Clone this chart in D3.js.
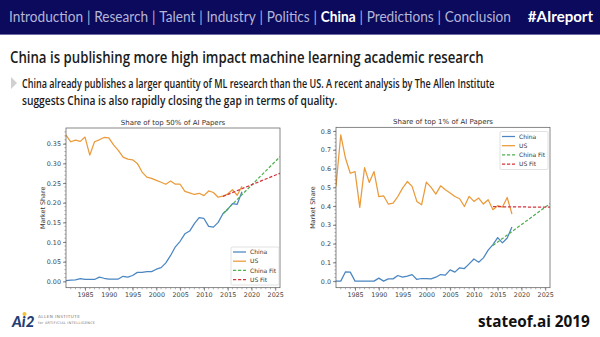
<!DOCTYPE html>
<html lang="en">
<head>
    <meta charset="UTF-8">
    <title>China ML research share</title>
    <script src="https://d3js.org/d3.v7.min.js"></script>
    <style>
        body { margin: 0; background: #fff; }
        svg { display: block; }
    </style>
</head>
<body>
    <script>
    // yearly market share, 1981-2018
    const years = d3.range(1981, 2019);
    const usTop50 = [0.372, 0.355, 0.359, 0.356, 0.367, 0.321, 0.355, 0.360, 0.366, 0.365,
      0.347, 0.333, 0.316, 0.311, 0.309, 0.300, 0.278, 0.265, 0.262, 0.257,
      0.252, 0.247, 0.255, 0.247, 0.247, 0.229, 0.225, 0.221, 0.224, 0.218,
      0.230, 0.226, 0.214, 0.217, 0.222, 0.233, 0.219, 0.242];
    const chinaTop50 = [0.002, 0.003, 0.004, 0.007, 0.005, 0.005, 0.005, 0.011, 0.008, 0.006,
      0.006, 0.006, 0.013, 0.011, 0.015, 0.023, 0.023, 0.025, 0.025, 0.031,
      0.035, 0.047, 0.066, 0.088, 0.102, 0.121, 0.128, 0.147, 0.162, 0.160,
      0.140, 0.138, 0.150, 0.172, 0.183, 0.198, 0.196, 0.228];
    const usTop1 = [0.505, 0.780, 0.655, 0.575, 0.584, 0.393, 0.605, 0.526, 0.584, 0.451,
      0.455, 0.411, 0.416, 0.451, 0.496, 0.531, 0.505, 0.425, 0.407, 0.528,
      0.500, 0.464, 0.508, 0.487, 0.470, 0.451, 0.439, 0.398, 0.452, 0.425,
      0.443, 0.411, 0.434, 0.381, 0.402, 0.395, 0.446, 0.358];
    const chinaTop1 = [0.000, 0.000, 0.050, 0.048, 0.000, 0.000, 0.000, 0.000, 0.000, 0.016,
      0.000, 0.012, 0.012, 0.030, 0.021, 0.027, 0.035, 0.009, 0.014, 0.014,
      0.012, 0.021, 0.035, 0.032, 0.060, 0.048, 0.071, 0.067, 0.092, 0.118,
      0.101, 0.124, 0.165, 0.195, 0.232, 0.204, 0.230, 0.288];

    // linear fits, start and end points
    const fitYears = [2014, 2026];
    const chinaFit50 = [0.172, 0.317];
    const usFit50 = [0.216, 0.275];
    const chinaFit1 = [0.190, 0.413];
    const usFit1 = [0.397, 0.394];

    const xTicks = d3.range(1985, 2026, 5);
    const yTicks50 = [0, 0.05, 0.10, 0.15, 0.20, 0.25, 0.30, 0.35];
    const yTicks1 = [0, 0.1, 0.2, 0.3, 0.4, 0.5, 0.6, 0.7, 0.8];
    const legendNames = ["China", "US", "China Fit", "US Fit"];

    const navItems = ["Introduction", "Research", "Talent", "Industry", "Politics", "China", "Predictions", "Conclusion"];

    const width = 600, height = 337;
    const colors = { china: "#4a86c2", us: "#eb9a3a", chinaFit: "#4fb04f", usFit: "#d2343f" };
    const tickFont = "DejaVu Sans, sans-serif";

    const svg = d3.select("body").append("svg")
      .attr("width", width)
      .attr("height", height);

    svg.append("rect").attr("width", width).attr("height", height).attr("fill", "#fff");

    // squeeze a text horizontally so it spans w pixels
    function squeeze(sel, x, y, w) {
      const natural = sel.node().getComputedTextLength();
      sel.attr("transform", `translate(${x},${y}) scale(${w / natural},1)`);
      return sel;
    }

    // header band
    svg.append("rect").attr("width", width).attr("height", 34).attr("fill", "#0b0a5c");
    svg.append("rect").attr("y", 34).attr("width", width).attr("height", 1).attr("fill", "#6d6ca6");

    // nav: lay out pieces at natural width, then scale the whole row
    const navRow = svg.append("g");
    let cursor = 0;
    const navPieces = [];
    navItems.forEach((name, i) => {
      navPieces.push({ text: name, bold: name === "China" });
      if (i < navItems.length - 1) navPieces.push({ text: "|", bold: false, sep: true });
    });
    const gap = 4.2;
    navPieces.forEach((p, i) => {
      const t = navRow.append("text")
        .attr("x", cursor).attr("y", 0)
        .attr("font-family", "Lato, sans-serif")
        .attr("font-size", 15)
        .attr("font-weight", p.bold ? 700 : 400)
        .attr("fill", p.bold ? "#fff" : "#b5b5d8")
        .text(p.text);
      cursor += t.node().getComputedTextLength() + (i < navPieces.length - 1 ? gap : 0);
    });
    navRow.attr("transform", `translate(9,22) scale(${502 / cursor},1)`);

    svg.append("text")
      .attr("x", 593).attr("y", 22)
      .attr("text-anchor", "end")
      .attr("font-family", "Lato, sans-serif")
      .attr("font-weight", 700)
      .attr("font-size", 15)
      .attr("fill", "#fff")
      .text("#AIreport");

    // slide title and bullet
    squeeze(svg.append("text")
      .attr("font-family", "Open Sans, sans-serif")
      .attr("font-weight", 600)
      .attr("font-size", 16)
      .attr("fill", "#1b1b1b")
      .text("China is publishing more high impact machine learning academic research"), 10, 63, 474);

    svg.append("path")
      .attr("d", "M11,77 L17,83 L11,89 Z")
      .attr("fill", "#d0d0d0");

    const bullet = [
      { text: "China already publishes a larger quantity of ML research than the US. A recent analysis by The Allen Institute", len: 473 },
      { text: "suggests China is also rapidly closing the gap in terms of quality.", len: 316 }
    ];
    bullet.forEach((d, i) => {
      squeeze(svg.append("text")
        .attr("font-family", "Open Sans, sans-serif")
        .attr("font-weight", 600)
        .attr("font-size", 12)
        .attr("fill", "#1b1b1b")
        .text(d.text), 22, 88 + i * 17, d.len);
    });

    function drawChart(cfg) {
      const x = d3.scaleLinear().domain([1981, 2026]).range([cfg.left, cfg.right]);
      const y = d3.scaleLinear().domain(cfg.yDomain).range([cfg.bottom, cfg.top]);
      const g = svg.append("g");

      const clipId = "clip" + cfg.id;
      svg.append("clipPath").attr("id", clipId)
        .append("rect")
        .attr("x", cfg.left).attr("y", cfg.top)
        .attr("width", cfg.right - cfg.left).attr("height", cfg.bottom - cfg.top);

      // minor ticks
      g.append("g")
        .selectAll("line")
        .data(d3.range(1982, 2026))
        .join("line")
        .attr("x1", d => x(d)).attr("x2", d => x(d))
        .attr("y1", cfg.bottom).attr("y2", cfg.bottom + 1.6)
        .attr("stroke", "#666").attr("stroke-width", 0.5);
      g.append("g")
        .selectAll("line")
        .data(d3.range(0, cfg.yDomain[1], cfg.yMinor))
        .join("line")
        .attr("y1", d => y(d)).attr("y2", d => y(d))
        .attr("x1", cfg.left).attr("x2", cfg.left - 1.6)
        .attr("stroke", "#666").attr("stroke-width", 0.5);

      const xAxis = g.append("g")
        .attr("transform", `translate(0,${cfg.bottom})`)
        .call(d3.axisBottom(x).tickValues(xTicks).tickFormat(d3.format("d")).tickSize(3).tickPadding(2));
      const yAxis = g.append("g")
        .attr("transform", `translate(${cfg.left},0)`)
        .call(d3.axisLeft(y).tickValues(cfg.yTicks).tickFormat(d3.format(cfg.yFormat)).tickSize(3).tickPadding(2));
      [xAxis, yAxis].forEach(a => {
        a.select(".domain").remove();
        a.selectAll("line").attr("stroke", "#555").attr("stroke-width", 0.7);
        a.selectAll("text")
          .attr("font-family", tickFont)
          .attr("font-size", 6.4)
          .attr("fill", "#444");
      });

      const line = d3.line().x(d => x(d[0])).y(d => y(d[1]));
      const plot = g.append("g").attr("clip-path", `url(#${clipId})`);
      const series = [
        { pts: d3.zip(years, cfg.china), color: colors.china, dash: null },
        { pts: d3.zip(years, cfg.us), color: colors.us, dash: null },
        { pts: d3.zip(fitYears, cfg.chinaFit), color: colors.chinaFit, dash: "3.2,1.8" },
        { pts: d3.zip(fitYears, cfg.usFit), color: colors.usFit, dash: "3.2,1.8" }
      ];
      plot.selectAll("path")
        .data(series)
        .join("path")
        .attr("d", d => line(d.pts))
        .attr("fill", "none")
        .attr("stroke", d => d.color)
        .attr("stroke-width", 1.25)
        .attr("stroke-dasharray", d => d.dash)
        .attr("stroke-linejoin", "round");

      // frame
      g.append("rect")
        .attr("x", cfg.left).attr("y", cfg.top)
        .attr("width", cfg.right - cfg.left).attr("height", cfg.bottom - cfg.top)
        .attr("fill", "none").attr("stroke", "#555").attr("stroke-width", 0.7);

      g.append("text")
        .attr("x", (cfg.left + cfg.right) / 2).attr("y", cfg.top - 3)
        .attr("text-anchor", "middle")
        .attr("font-family", tickFont).attr("font-size", 7)
        .attr("fill", "#333")
        .text(cfg.title);

      g.append("text")
        .attr("transform", `translate(${cfg.labelX},${(cfg.top + cfg.bottom) / 2}) rotate(-90)`)
        .attr("text-anchor", "middle")
        .attr("font-family", tickFont).attr("font-size", 6.4)
        .attr("fill", "#333")
        .text("Market Share");

      // legend
      const lg = g.append("g").attr("transform", `translate(${cfg.legend[0]},${cfg.legend[1]})`);
      lg.append("rect")
        .attr("width", 48).attr("height", 38).attr("rx", 1.5)
        .attr("fill", "#fff").attr("fill-opacity", 0.85)
        .attr("stroke", "#ccc").attr("stroke-width", 0.6);
      legendNames.forEach((name, i) => {
        const yy = 5 + i * 9.2;
        lg.append("line")
          .attr("x1", 2).attr("x2", 15).attr("y1", yy).attr("y2", yy)
          .attr("stroke", series[i].color).attr("stroke-width", 1.25)
          .attr("stroke-dasharray", series[i].dash);
        lg.append("text")
          .attr("x", 19).attr("y", yy + 2.1)
          .attr("font-family", tickFont).attr("font-size", 6)
          .attr("fill", "#333")
          .text(name);
      });
    }

    drawChart({
      id: "top50", title: "Share of top 50% of AI Papers",
      left: 66, right: 280, top: 128, bottom: 287.7, labelX: 45,
      yDomain: [-0.016, 0.39], yTicks: yTicks50, yFormat: ".2f", yMinor: 0.01,
      china: chinaTop50, us: usTop50, chinaFit: chinaFit50, usFit: usFit50,
      legend: [231, 247]
    });

    drawChart({
      id: "top1", title: "Share of top 1% of AI Papers",
      left: 336, right: 550, top: 127.3, bottom: 287.7, labelX: 315,
      yDomain: [-0.035, 0.82], yTicks: yTicks1, yFormat: ".1f", yMinor: 0.02,
      china: chinaTop1, us: usTop1, chinaFit: chinaFit1, usFit: usFit1,
      legend: [500, 131.5]
    });

    // footer
    const logo = svg.append("g").attr("transform", "translate(12,327)");
    logo.append("text")
      .attr("font-family", "Lato, sans-serif").attr("font-weight", 900)
      .attr("font-size", 15).attr("font-style", "italic")
      .attr("fill", "#243d74")
      .text("Ai2");
    logo.append("circle").attr("cx", 12.5).attr("cy", -13).attr("r", 2).attr("fill", "#f2c230");
    svg.append("text")
      .attr("x", 38).attr("y", 318)
      .attr("font-family", "DejaVu Sans, sans-serif").attr("font-size", 4.2)
      .attr("fill", "#777").attr("letter-spacing", 0.4)
      .text("ALLEN INSTITUTE");
    svg.append("text")
      .attr("x", 38).attr("y", 323.5)
      .attr("font-family", "DejaVu Sans, sans-serif").attr("font-size", 3.4)
      .attr("fill", "#777").attr("letter-spacing", 0.3)
      .text("for ARTIFICIAL INTELLIGENCE");

    squeeze(svg.append("text")
      .attr("font-family", "Open Sans, sans-serif").attr("font-weight", 700)
      .attr("font-size", 16.5)
      .attr("fill", "#111")
      .text("stateof.ai 2019"), 478, 327, 112);
    </script>
</body>
</html>
